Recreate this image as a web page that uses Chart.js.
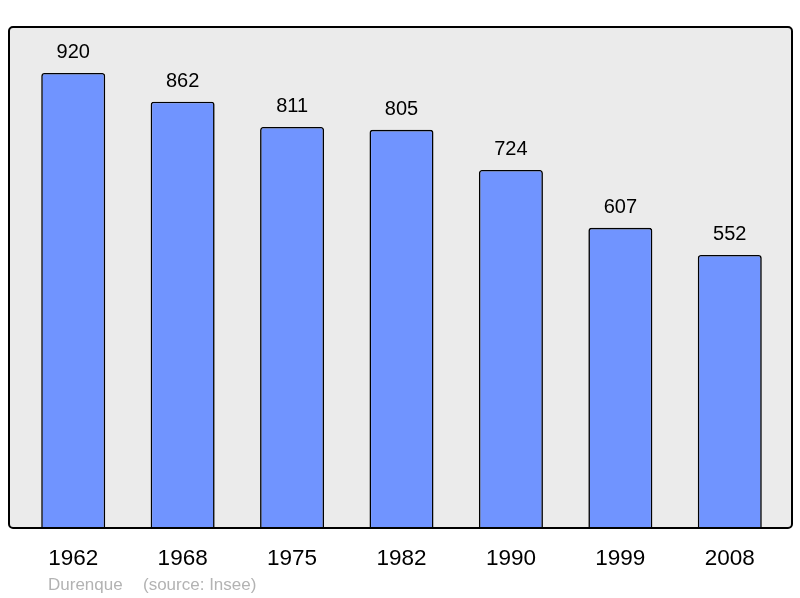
<!DOCTYPE html>
<html>
<head>
<meta charset="utf-8">
<script src="https://cdn.jsdelivr.net/npm/chart.js@4/dist/chart.umd.min.js"></script>
<style>
  html, body { margin: 0; padding: 0; background: #ffffff; }
  #wrap { width: 800px; height: 598px; }
</style>
</head>
<body>
<div id="wrap"><canvas id="popChart" width="800" height="598"></canvas></div>
<script>
// années de recensement
const years = ['1962', '1968', '1975', '1982', '1990', '1999', '2008'];
// population
const population = [920, 862, 811, 805, 724, 607, 552];

const footerAuthor = 'Durenque';
const footerSource = '(source: Insee)';

// fond gris arrondi derrière les barres
const frameBox = {
  id: 'frameBox',
  beforeDatasetsDraw(chart) {
    const { ctx, chartArea } = chart;
    const x = chartArea.left - 9.5, y = chartArea.top;
    const w = chartArea.right - chartArea.left + 17, h = chartArea.bottom - chartArea.top;
    ctx.save();
    ctx.beginPath();
    ctx.roundRect(x, y, w, h, 4);
    ctx.fillStyle = '#ebebeb';
    ctx.fill();
    ctx.restore();
  },
  afterDatasetsDraw(chart) {
    const { ctx, chartArea } = chart;
    const x = chartArea.left - 9.5, y = chartArea.top;
    const w = chartArea.right - chartArea.left + 17, h = chartArea.bottom - chartArea.top;
    ctx.save();
    ctx.beginPath();
    ctx.roundRect(x, y, w, h, 4);
    ctx.lineWidth = 2;
    ctx.strokeStyle = '#000000';
    ctx.stroke();

    // valeurs au-dessus des barres
    ctx.font = '20px "Liberation Sans", Arial, sans-serif';
    ctx.fillStyle = '#000000';
    ctx.textAlign = 'center';
    ctx.textBaseline = 'alphabetic';
    chart.getDatasetMeta(0).data.forEach((bar, i) => {
      ctx.fillText(String(population[i]), bar.x, bar.y - 14.5);
    });

    // pied de page
    ctx.font = '17px "Liberation Sans", Arial, sans-serif';
    ctx.fillStyle = '#b3b3b3';
    ctx.textAlign = 'left';
    ctx.fillText(footerAuthor, 48, 590);
    ctx.fillText(footerSource, 143, 590);
    ctx.restore();
  }
};

new Chart(document.getElementById('popChart'), {
  type: 'bar',
  data: {
    labels: years,
    datasets: [{
      data: population,
      backgroundColor: '#7094ff',
      borderColor: '#000000',
      borderWidth: 1.6,
      borderSkipped: 'bottom',
      borderRadius: { topLeft: 3, topRight: 3, bottomLeft: 0, bottomRight: 0 },
      barPercentage: 0.585,
      categoryPercentage: 1.0
    }]
  },
  options: {
    responsive: false,
    animation: false,
    layout: { padding: { left: 18.5, right: 15.5, top: 27, bottom: 0 } },
    plugins: {
      legend: { display: false },
      tooltip: { enabled: false }
    },
    scales: {
      x: {
        grid: { display: false, drawTicks: false },
        border: { display: false },
        ticks: {
          color: '#000000',
          padding: 17,
          font: { family: '"Liberation Sans", Arial, sans-serif', size: 22.5 }
        },
        afterFit(scale) { scale.height = 70; }
      },
      y: {
        display: false,
        min: 0,
        max: 1013
      }
    }
  },
  plugins: [frameBox]
});
</script>
</body>
</html>
